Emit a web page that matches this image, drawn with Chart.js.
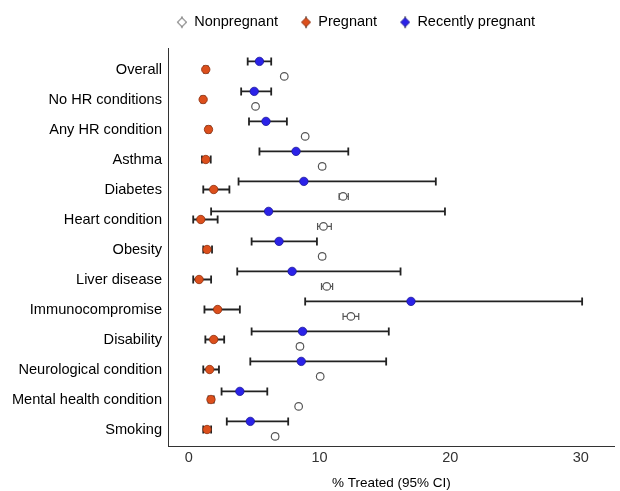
<!DOCTYPE html>
<html>
<head>
<meta charset="utf-8">
<script src="https://cdn.jsdelivr.net/npm/chart.js@4.4.1/dist/chart.umd.min.js"></script>
<style>
  html, body { margin: 0; padding: 0; background: #fff; }
  #wrap { width: 620px; height: 491px; position: relative; }
</style>
</head>
<body>
<div id="wrap"><canvas id="treatChart"></canvas></div>
<script>
const categories = ['Overall', 'No HR conditions', 'Any HR condition', 'Asthma', 'Diabetes',
  'Heart condition', 'Obesity', 'Liver disease', 'Immunocompromise', 'Disability',
  'Neurological condition', 'Mental health condition', 'Smoking'];

// Nonpregnant
const nonpreg   = [7.3, 5.1, 8.9, 10.2, 11.8, 10.3, 10.2, 10.55, 12.4, 8.5, 10.05, 8.4, 6.6];
const nonpregLo = [7.2, 5.0, 8.8, 10.0, 11.5, 9.85, 10.0, 10.15, 11.8, 8.3, 9.9, 8.3, 6.45];
const nonpregHi = [7.4, 5.2, 9.0, 10.4, 12.2, 10.9, 10.4, 11.0, 13.0, 8.7, 10.2, 8.5, 6.8];

// Pregnant
const preg   = [1.29, 1.09, 1.5, 1.29, 1.9, 0.91, 1.39, 0.78, 2.2, 1.9, 1.59, 1.69, 1.39];
const pregLo = [1.15, 0.95, 1.35, 1.0, 1.1, 0.33, 1.1, 0.33, 1.19, 1.26, 1.1, 1.5, 1.1];
const pregHi = [1.45, 1.2, 1.65, 1.67, 3.1, 2.2, 1.77, 1.7, 3.9, 2.7, 2.3, 1.9, 1.7];

// Recently pregnant
const recent   = [5.4, 5.0, 5.9, 8.2, 8.8, 6.1, 6.9, 7.9, 17.0, 8.7, 8.6, 3.9, 4.7];
const recentLo = [4.5, 4.0, 4.6, 5.4, 3.8, 1.7, 4.8, 3.7, 8.9, 4.8, 4.7, 2.5, 2.9];
const recentHi = [6.3, 6.3, 7.5, 12.2, 18.9, 19.6, 9.8, 16.2, 30.1, 15.3, 15.1, 6.0, 7.6];

const xTicks = [0, 10, 20, 30];

const FONT = "'Liberation Sans', Arial, sans-serif";

function makePoints(vals, lo, hi, shift) {
  return vals.map((v, i) => ({ x: v, y: i + shift, lo: lo[i], hi: hi[i] }));
}

// legend key: diamond with a short vertical line, left padding gives the item gap
function legendKey(fill, stroke, lineCol) {
  const c = document.createElement('canvas');
  c.width = 23; c.height = 14;
  const g = c.getContext('2d');
  const cx = 18, cy = 7;
  g.strokeStyle = lineCol; g.lineWidth = 1.2;
  g.beginPath(); g.moveTo(cx, 1); g.lineTo(cx, 13); g.stroke();
  g.beginPath();
  g.moveTo(cx, cy - 4.5); g.lineTo(cx + 4.5, cy); g.lineTo(cx, cy + 4.5); g.lineTo(cx - 4.5, cy); g.closePath();
  g.fillStyle = fill; g.fill();
  g.strokeStyle = stroke; g.lineWidth = 1; g.stroke();
  return c;
}

const errorBars = {
  id: 'errorBars',
  beforeDatasetsDraw(chart) {
    const ctx = chart.ctx;
    const xs = chart.scales.x, ys = chart.scales.y;
    chart.data.datasets.forEach((ds) => {
      ctx.save();
      ctx.strokeStyle = ds.barColor;
      ctx.lineWidth = ds.barWidth;
      ds.data.forEach((p) => {
        const y = ys.getPixelForValue(p.y);
        const x1 = xs.getPixelForValue(p.lo);
        const x2 = xs.getPixelForValue(p.hi);
        ctx.beginPath();
        ctx.moveTo(x1, y); ctx.lineTo(x2, y);
        ctx.moveTo(x1, y - ds.capSize); ctx.lineTo(x1, y + ds.capSize);
        ctx.moveTo(x2, y - ds.capSize); ctx.lineTo(x2, y + ds.capSize);
        ctx.stroke();
      });
      ctx.restore();
    });
  }
};

const legendTweak = {
  id: 'legendTweak',
  beforeLayout(chart) {
    const lg = chart.legend;
    if (lg && !lg._tweaked) {
      const fit = lg.fit;
      lg.fit = function () { fit.call(this); this.height += 9; };
      lg._tweaked = true;
    }
  },
  afterLayout(chart) {
    chart.legend.left += 40;
    chart.legend.right += 40;
  }
};

new Chart(document.getElementById('treatChart'), {
  type: 'scatter',
  data: {
    datasets: [
      {
        label: 'Nonpregnant',
        data: makePoints(nonpreg, nonpregLo, nonpregHi, 0.23),
        backgroundColor: '#ffffff',
        borderColor: '#555555',
        borderWidth: 1.2,
        pointRadius: 3.8,
        barColor: '#555555',
        barWidth: 1.2,
        capSize: 3.5,
        key: legendKey('#ffffff', '#444444', '#888888')
      },
      {
        label: 'Pregnant',
        data: makePoints(preg, pregLo, pregHi, 0),
        backgroundColor: '#dc4f1c',
        borderColor: '#8c2e0e',
        borderWidth: 0.8,
        pointRadius: 4.2,
        barColor: '#222222',
        barWidth: 1.8,
        capSize: 4,
        key: legendKey('#dc4f1c', '#8c2e0e', '#333333')
      },
      {
        label: 'Recently pregnant',
        data: makePoints(recent, recentLo, recentHi, -0.27),
        backgroundColor: '#2b22e8',
        borderColor: '#1b1699',
        borderWidth: 0.8,
        pointRadius: 4.2,
        barColor: '#222222',
        barWidth: 1.8,
        capSize: 4,
        key: legendKey('#2b22e8', '#1b1699', '#333333')
      }
    ]
  },
  options: {
    responsive: true,
    maintainAspectRatio: false,
    animation: false,
    layout: { padding: { top: 5, right: 1, left: 0, bottom: 0 } },
    plugins: {
      tooltip: { enabled: false },
      legend: {
        position: 'top',
        labels: {
          font: { family: FONT, size: 14.5 },
          color: '#000',
          usePointStyle: true,
          pointStyleWidth: 23,
          boxHeight: 14,
          padding: 10,
          generateLabels(chart) {
            return chart.data.datasets.map((ds, i) => ({
              text: ds.label,
              fillStyle: ds.backgroundColor,
              strokeStyle: ds.borderColor,
              lineWidth: 0,
              pointStyle: ds.key,
              datasetIndex: i,
              hidden: false
            }));
          }
        }
      }
    },
    scales: {
      x: {
        type: 'linear',
        min: -1.6,
        max: 32.6,
        afterBuildTicks(scale) { scale.ticks = xTicks.map(v => ({ value: v })); },
        afterFit(scale) { scale.height = 45; },
        grid: { display: false, drawTicks: true, tickLength: 4, tickColor: '#333' },
        border: { display: true, color: '#333', width: 1 },
        ticks: { font: { family: FONT, size: 14.5 }, color: '#333', padding: -1 },
        title: {
          display: true,
          text: '% Treated (95% CI)',
          font: { family: FONT, size: 13.5 },
          color: '#000',
          padding: { top: 0, bottom: 0 }
        }
      },
      y: {
        type: 'linear',
        reverse: true,
        min: -0.7,
        max: 12.55,
        afterBuildTicks(scale) { scale.ticks = categories.map((c, i) => ({ value: i })); },
        afterFit(scale) { scale.width = 168; },
        grid: { display: false, drawTicks: true, tickLength: 3, tickColor: '#bbb' },
        border: { display: true, color: '#333', width: 1 },
        ticks: {
          font: { family: FONT, size: 14.6 },
          color: '#000',
          padding: 3,
          callback: (v) => categories[v]
        }
      }
    }
  },
  plugins: [errorBars, legendTweak]
});
</script>
</body>
</html>
